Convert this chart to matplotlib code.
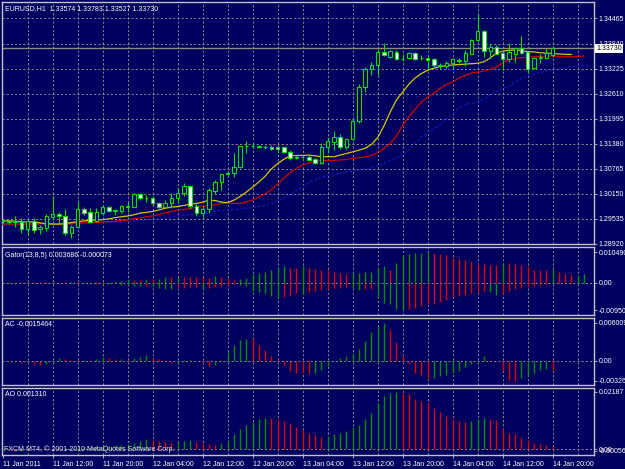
import numpy as np
import matplotlib.pyplot as plt
from matplotlib.transforms import blended_transform_factory

# EURUSD H1 candles, 11 Jan 04:00 .. 14 Jan 20:00 (89 bars)
opens = [1.2947, 1.2948, 1.2946, 1.2946, 1.2928, 1.2948, 1.2927, 1.2930, 1.2958, 1.2965,
         1.2961, 1.2918, 1.2932, 1.2978, 1.2971, 1.2947, 1.2968, 1.2982, 1.2973, 1.2973,
         1.2983, 1.2983, 1.3014, 1.3004, 1.3004, 1.2991, 1.2983, 1.2993, 1.3004, 1.3016,
         1.3034, 1.2985, 1.2968, 1.2977, 1.3022, 1.3043, 1.3063, 1.3065, 1.3081, 1.3132,
         1.3133, 1.3133, 1.3130, 1.3131, 1.3129, 1.3129, 1.3118, 1.3103, 1.3106, 1.3105,
         1.3100, 1.3090, 1.3130, 1.3141, 1.3155, 1.3129, 1.3149, 1.3195, 1.3278, 1.3321,
         1.3333, 1.3363, 1.3352, 1.3364, 1.3347, 1.3348, 1.3362, 1.3349, 1.3350, 1.3346,
         1.3331, 1.3329, 1.3336, 1.3342, 1.3342, 1.3360, 1.3393, 1.3415, 1.3367, 1.3377,
         1.3362, 1.3346, 1.3360, 1.3373, 1.3363, 1.3324, 1.3350, 1.3348, 1.33574]
highs = [1.2952, 1.2950, 1.2961, 1.2956, 1.2955, 1.2955, 1.2938, 1.2964, 1.3008, 1.2971,
         1.2977, 1.2938, 1.2995, 1.2982, 1.2980, 1.2979, 1.2985, 1.2985, 1.2977, 1.2987,
         1.2995, 1.3016, 1.3017, 1.3012, 1.3010, 1.2994, 1.3000, 1.3017, 1.3028, 1.3041,
         1.3037, 1.2993, 1.2985, 1.3028, 1.3048, 1.3064, 1.3070, 1.3114, 1.3133, 1.3145,
         1.3137, 1.3135, 1.3134, 1.3134, 1.3134, 1.3131, 1.3122, 1.3110, 1.3108, 1.3109,
         1.3102, 1.3140, 1.3154, 1.3170, 1.3162, 1.3151, 1.3200, 1.3285, 1.3327, 1.3340,
         1.3371, 1.3385, 1.3370, 1.3370, 1.3360, 1.3364, 1.3364, 1.3356, 1.3354, 1.3348,
         1.3336, 1.3342, 1.3350, 1.3350, 1.3368, 1.3397, 1.3457, 1.3418, 1.3383, 1.3381,
         1.3365, 1.3385, 1.3375, 1.3403, 1.3367, 1.3352, 1.3359, 1.3373, 1.33783]
lows = [1.2941, 1.2941, 1.2934, 1.2918, 1.2913, 1.2918, 1.2916, 1.2922, 1.2950, 1.2942,
        1.2913, 1.2905, 1.2930, 1.2963, 1.2944, 1.2944, 1.2963, 1.2971, 1.2963, 1.2967,
        1.2971, 1.2981, 1.3000, 1.2995, 1.2984, 1.2980, 1.2980, 1.2980, 1.2993, 1.3009,
        1.2977, 1.2960, 1.2958, 1.2968, 1.3014, 1.3023, 1.3060, 1.3056, 1.3079, 1.3115,
        1.3128, 1.3128, 1.3125, 1.3122, 1.3114, 1.3115, 1.3097, 1.3101, 1.3102, 1.3095,
        1.3088, 1.3089, 1.3114, 1.3122, 1.3125, 1.3125, 1.3147, 1.3190, 1.3266, 1.3307,
        1.3307, 1.3354, 1.3350, 1.3344, 1.3342, 1.3346, 1.3345, 1.3344, 1.3323, 1.3327,
        1.3323, 1.3324, 1.3324, 1.3336, 1.3329, 1.3359, 1.3391, 1.3352, 1.3348, 1.3358,
        1.3319, 1.3340, 1.3340, 1.3360, 1.3311, 1.3321, 1.3336, 1.3346, 1.33527]
closes = [1.2949, 1.2944, 1.2947, 1.2928, 1.2948, 1.2926, 1.2932, 1.2960, 1.2964, 1.2960,
          1.2918, 1.2934, 1.2978, 1.2968, 1.2946, 1.2970, 1.2982, 1.2973, 1.2974, 1.2985,
          1.2984, 1.3014, 1.3004, 1.3005, 1.2991, 1.2983, 1.2993, 1.3005, 1.3016, 1.3034,
          1.2985, 1.2968, 1.2977, 1.3024, 1.3043, 1.3063, 1.3065, 1.3081, 1.3132, 1.3133,
          1.3132, 1.3130, 1.3129, 1.3124, 1.3124, 1.3118, 1.3102, 1.3106, 1.3105, 1.3098,
          1.3090, 1.3129, 1.3145, 1.3155, 1.3129, 1.3149, 1.3195, 1.3277, 1.3322, 1.3333,
          1.3363, 1.3356, 1.3366, 1.3346, 1.3346, 1.3362, 1.3346, 1.3350, 1.3344, 1.3331,
          1.3330, 1.3337, 1.3346, 1.3343, 1.3362, 1.3393, 1.3415, 1.3366, 1.3377, 1.3360,
          1.3346, 1.3363, 1.3373, 1.3362, 1.3323, 1.3348, 1.3352, 1.3362, 1.33730]

# Alligator lines as drawn (already shifted forward: lips 3, teeth 5, jaw 8 bars)
lips = [1.2948, 1.2948, 1.2947, 1.2946, 1.2945, 1.2945, 1.2943, 1.2941, 1.2940, 1.2940,
        1.2941, 1.2944, 1.2946, 1.2948, 1.2949, 1.2950, 1.2951, 1.2953, 1.2956, 1.2958,
        1.2960, 1.2963, 1.2967, 1.2969, 1.2971, 1.2975, 1.2979, 1.2982, 1.2983, 1.2986,
        1.2989, 1.2991, 1.2994, 1.2999, 1.2998, 1.2994, 1.2993, 1.2999, 1.3008, 1.3019,
        1.3031, 1.3044, 1.3058, 1.3076, 1.3089, 1.3100, 1.3108, 1.3109, 1.3109, 1.3110,
        1.3108, 1.3106, 1.3106, 1.3106, 1.3110, 1.3114, 1.3118, 1.3122, 1.3127, 1.3136,
        1.3153, 1.3182, 1.3216, 1.3246, 1.3265, 1.3285, 1.3300, 1.3311, 1.3319, 1.3324,
        1.3328, 1.3330, 1.3332, 1.3333, 1.3334, 1.3335, 1.3336, 1.3340, 1.3349, 1.3361,
        1.3366, 1.3368, 1.3369, 1.3367, 1.3365, 1.3364, 1.3362, 1.3361, 1.3360, 1.3359,
        1.3358, 1.3358]
teeth = [1.2940, 1.2940, 1.2940, 1.2940, 1.2940, 1.2940, 1.2941, 1.2941, 1.2941, 1.2941,
         1.2940, 1.2941, 1.2942, 1.2943, 1.2944, 1.2944, 1.2945, 1.2946, 1.2947, 1.2949,
         1.2950, 1.2953, 1.2955, 1.2958, 1.2960, 1.2963, 1.2968, 1.2971, 1.2975, 1.2976,
         1.2979, 1.2981, 1.2984, 1.2986, 1.2988, 1.2991, 1.2992, 1.2991, 1.2991, 1.2995,
         1.2999, 1.3007, 1.3015, 1.3025, 1.3039, 1.3054, 1.3067, 1.3077, 1.3086, 1.3091,
         1.3094, 1.3096, 1.3097, 1.3097, 1.3098, 1.3099, 1.3102, 1.3104, 1.3105, 1.3109,
         1.3116, 1.3126, 1.3139, 1.3157, 1.3184, 1.3205, 1.3223, 1.3241, 1.3253, 1.3263,
         1.3274, 1.3284, 1.3290, 1.3300, 1.3306, 1.3312, 1.3314, 1.3317, 1.3321, 1.3327,
         1.3337, 1.3345, 1.3348, 1.3350, 1.3351, 1.3352, 1.3353, 1.3354, 1.3354, 1.3353,
         1.3352, 1.3352, 1.3353, 1.3354]
jaw = [1.2938, 1.2938, 1.2938, 1.2938, 1.2938, 1.2938, 1.2938, 1.2938, 1.2938, 1.2938,
       1.2938, 1.2939, 1.2940, 1.2941, 1.2942, 1.2943, 1.2944, 1.2944, 1.2945, 1.2945,
       1.2946, 1.2947, 1.2948, 1.2950, 1.2952, 1.2953, 1.2955, 1.2957, 1.2960, 1.2962,
       1.2964, 1.2966, 1.2968, 1.2970, 1.2972, 1.2973, 1.2975, 1.2976, 1.2977, 1.2979,
       1.2981, 1.2983, 1.2986, 1.2991, 1.2997, 1.3004, 1.3013, 1.3023, 1.3033, 1.3042,
       1.3050, 1.3055, 1.3059, 1.3062, 1.3066, 1.3068, 1.3071, 1.3073, 1.3075, 1.3078,
       1.3083, 1.3089, 1.3097, 1.3104, 1.3110, 1.3123, 1.3140, 1.3156, 1.3167, 1.3175,
       1.3184, 1.3199, 1.3211, 1.3226, 1.3234, 1.3238, 1.3241, 1.3248, 1.3258, 1.3268,
       1.3274, 1.3280, 1.3289, 1.3299, 1.3306, 1.3310, 1.3313, 1.3317, 1.3320, 1.3322,
       1.3325, 1.3327, 1.3329, 1.3330, 1.3331]

# Gator oscillator (upper / lower histograms)
gator_up = [0.00023, 0.00034, 0.00023, 0.00011, 0.00023, 0.00011, 0.00011, 0.00011, 0.00023, 0.00011,
            0.00011, 0.00023, 0.00023, 0.00034, 0.00034, 0.00034, 0.00023, 0.00034, 0.00045, 0.00057,
            0.00113, 0.00090, 0.00090, 0.00113, 0.00113, 0.00124, 0.00181, 0.00181, 0.00203, 0.00203,
            0.00181, 0.00181, 0.00181, 0.00170, 0.00226, 0.00203, 0.00147, 0.00090, 0.00113, 0.00147,
            0.00283, 0.00339, 0.00373, 0.00429, 0.00520, 0.00565, 0.00520, 0.00509, 0.00565, 0.00520,
            0.00486, 0.00452, 0.00429, 0.00362, 0.00339, 0.00294, 0.00316, 0.00339, 0.00350, 0.00362,
            0.00520, 0.00565, 0.00452, 0.00678, 0.00938, 0.00972, 0.01017, 0.01028, 0.01049, 0.01017,
            0.00994, 0.00938, 0.00859, 0.00825, 0.00768, 0.00712, 0.00633, 0.00633, 0.00599, 0.00599,
            0.00678, 0.00678, 0.00655, 0.00599, 0.00576, 0.00452, 0.00418, 0.00418, 0.00475, 0.00350,
            0.00305, 0.00249, 0.00271, 0.00283]
gator_dn = [-0.00023, -0.00023, -0.00034, -0.00023, -0.00023, -0.00011, -0.00023, -0.00011, -0.00011, -0.00023,
            -0.00023, -0.00011, -0.00023, -0.00023, -0.00034, -0.00034, -0.00045, -0.00057, -0.00057, -0.00068,
            -0.00079, -0.00102, -0.00113, -0.00102, -0.00113, -0.00192, -0.00215, -0.00226, -0.00192, -0.00192,
            -0.00136, -0.00136, -0.00215, -0.00170, -0.00136, -0.00113, -0.00079, -0.00045, -0.00079, -0.00113,
            -0.00305, -0.00339, -0.00362, -0.00475, -0.00531, -0.00497, -0.00452, -0.00362, -0.00384, -0.00339,
            -0.00305, -0.00249, -0.00226, -0.00192, -0.00170, -0.00136, -0.00192, -0.00249, -0.00226, -0.00226,
            -0.00531, -0.00701, -0.00757, -0.00927, -0.00949, -0.00904, -0.00870, -0.00814, -0.00757, -0.00723,
            -0.00678, -0.00610, -0.00497, -0.00475, -0.00418, -0.00362, -0.00339, -0.00305, -0.00328, -0.00429,
            -0.00362, -0.00305, -0.00226, -0.00192, -0.00136, -0.00113, -0.00090, -0.00045, -0.00023, -0.00023,
            -0.00023, -0.00011, -0.00011, -0.00007]

# Accelerator (AC) and Awesome (AO) oscillators, in units of 1e-3
ac = [-0.27, -0.27, -0.21, -0.43, -0.27, -0.53, -0.74, -0.48, -0.16, 0.43,
      0.21, 0.11, 0.05, 0.16, 0.11, 0.27, 0.64, 0.48, 0.21, 0.27,
      0.16, 0.43, 0.64, 0.85, 0.43, 0.27, 0.05, -0.43, -0.32, 0.11,
      0.16, 0.00, -0.32, -0.80, -0.64, 0.05, 1.33, 2.55, 3.35, 3.46,
      3.40, 2.55, 1.76, 0.80, -0.16, -0.74, -1.70, -1.97, -2.02, -2.02,
      -1.92, -1.44, -0.80, 0.00, 0.43, 0.80, 1.12, 1.86, 3.09, 4.52,
      5.53, 6.009, 4.89, 2.98, 0.69, -0.53, -1.97, -2.23, -2.77, -2.71,
      -2.50, -2.23, -2.02, -1.60, -1.06, -0.53, -0.27, 0.80, 0.11, 0.00,
      -1.60, -3.03, -3.26, -2.77, -2.39, -1.92, -1.49, -1.38, -1.5464]
ao = [-0.25, -0.38, -0.56, -0.51, -0.38, -0.25, 0.00, 0.13, 0.25, 0.25,
      0.38, 0.51, 0.63, 0.88, 1.01, 1.14, 1.26, 1.39, 1.52, 1.77,
      2.02, 2.28, 3.29, 3.79, 3.54, 3.29, 2.91, 2.53, 2.78, 3.16,
      3.41, 2.78, 2.28, 1.90, 1.64, 2.28, 3.54, 5.69, 7.84, 9.10,
      10.36, 11.38, 11.88, 11.76, 11.38, 10.74, 9.86, 8.60, 7.33, 6.32,
      5.44, 4.80, 5.06, 5.69, 6.32, 6.95, 8.22, 9.10, 11.38, 13.90,
      17.44, 20.22, 21.49, 21.87, 21.49, 20.86, 19.21, 18.33, 17.70, 15.80,
      14.16, 12.64, 11.63, 10.74, 10.36, 10.74, 11.63, 11.76, 11.38, 11.12,
      7.58, 6.32, 5.69, 4.80, 3.54, 2.53, 1.90, 1.52, 1.31]

price_ticks = [1.34465, 1.33840, 1.33225, 1.32610, 1.31995, 1.31380, 1.30765, 1.30150, 1.29535, 1.28920]
date_bars = [0, 8, 16, 24, 32, 40, 48, 56, 64, 72, 80, 88]
date_labels = ['11 Jan 2011', '11 Jan 12:00', '11 Jan 20:00', '12 Jan 04:00', '12 Jan 12:00',
               '12 Jan 20:00', '13 Jan 04:00', '13 Jan 12:00', '13 Jan 20:00', '14 Jan 04:00',
               '14 Jan 12:00', '14 Jan 20:00']

# colours / style
bg = '#00005e'
frame = '#c4c4c4'
gridc = '#a09f90'
candle = '#00e000'
up_c = '#009000'
dn_c = '#e00000'
fs = 5.0
plt.rcParams['font.family'] = ['Liberation Sans', 'DejaVu Sans']

W, H = 625, 469
fig = plt.figure(figsize=(W / 100, H / 100), dpi=100)
fig.patch.set_facecolor(bg)


def box(top, bottom, left=2, right=594):
    return [left / W, 1 - bottom / H, (right - left) / W, (bottom - top) / H]


def style(a, yticks, ylabels, ylim):
    a.set_facecolor(bg)
    for s in a.spines.values():
        s.set_color(frame)
        s.set_linewidth(1.0)
    a.set_xlim(-0.1, 94.6)
    a.set_ylim(*ylim)
    a.yaxis.tick_right()
    a.set_yticks(yticks)
    a.set_yticklabels(ylabels)
    a.tick_params(axis='y', length=2, width=0.6, color=frame, labelcolor='white',
                  labelsize=fs, pad=1.2)
    a.set_xticks([])
    for k in range(4, 95, 4):
        a.axvline(k, color=gridc, lw=0.6, ls=(0, (2.5, 2.5)), zorder=1)


def hist_colors(vals, use_abs=False):
    v = np.abs(vals) if use_abs else np.asarray(vals)
    cols = [up_c]
    for a, b in zip(v[:-1], v[1:]):
        cols.append(up_c if b > a else dn_c)
    return cols


# ---- main price window
ax = fig.add_axes(box(2, 244))
style(ax, price_ticks, ['%.5f' % p for p in price_ticks], (1.2891, 1.3487))
for p in price_ticks:
    ax.axhline(p, color=gridc, lw=0.6, ls=(0, (2.5, 2.5)), zorder=1)

o, h, l, c = map(np.array, (opens, highs, lows, closes))
idx = np.arange(len(o))
ax.vlines(idx, l, h, color=candle, lw=0.8, zorder=4)
bull = c >= o
ax.bar(idx[bull], (c - o)[bull], bottom=o[bull], width=0.55, facecolor=bg,
       edgecolor=candle, linewidth=0.8, zorder=5)
ax.bar(idx[~bull], (o - c)[~bull], bottom=c[~bull], width=0.55, facecolor='white',
       edgecolor=candle, linewidth=0.8, zorder=5)

ax.plot(np.arange(len(jaw)), jaw, color='#1418c8', lw=0.9, ls=(0, (2, 1.6)), zorder=3)
ax.plot(np.arange(len(teeth)), teeth, color='#d00000', lw=0.9, zorder=3)
ax.plot(np.arange(len(lips)), lips, color='#d8c400', lw=0.9, zorder=3)

ax.axhline(closes[-1], color='#8a8a80', lw=1.0, zorder=2)
tr = blended_transform_factory(ax.transAxes, ax.transData)
ax.text(1.004, closes[-1], '%.5f' % closes[-1], transform=tr, fontsize=fs, color='black',
        va='center', ha='left', zorder=10,
        bbox=dict(facecolor='white', edgecolor='none', pad=0.8))
ax.text(0.005, 0.975, 'EURUSD,H1  %.5f %.5f %.5f %.5f' % (opens[-1], highs[-1], lows[-1], closes[-1]),
        transform=ax.transAxes, fontsize=fs, color='white', va='center', ha='left')

# ---- Gator
ax_g = fig.add_axes(box(247, 315))
style(ax_g, [0.01049, 0.0, -0.0095], ['0.010490', '0.00', '-0.00950'], (-0.0112, 0.0123))
ax_g.axhline(0, color=gridc, lw=0.6, ls=(0, (2.5, 2.5)), zorder=1)
gi = np.arange(len(gator_up))
ax_g.vlines(gi, 0, gator_up, colors=hist_colors(gator_up, True), lw=1.0, zorder=3)
ax_g.vlines(gi, 0, gator_dn, colors=hist_colors(gator_dn, True), lw=1.0, zorder=3)
ax_g.text(0.005, 0.88, 'Gator(13,8,5) 0.003686 -0.000073', transform=ax_g.transAxes,
          fontsize=fs, color='white', va='center', ha='left')

# ---- AC
ac_v = np.array(ac) * 1e-3
ax_ac = fig.add_axes(box(318, 385))
style(ax_ac, [0.006009, 0.0, -0.00326], ['0.006009', '0.00', '-0.00326'], (-0.0039, 0.0068))
ax_ac.axhline(0, color=gridc, lw=0.6, ls=(0, (2.5, 2.5)), zorder=1)
ax_ac.vlines(np.arange(len(ac_v)), 0, ac_v, colors=hist_colors(ac_v), lw=1.0, zorder=3)
ax_ac.text(0.005, 0.9, 'AC %.7f' % ac_v[-1], transform=ax_ac.transAxes,
           fontsize=fs, color='white', va='center', ha='left')

# ---- AO
ao_v = np.array(ao) * 1e-3
ax_ao = fig.add_axes(box(388, 455))
style(ax_ao, [0.02187, 0.0, -0.00056], ['0.02187', '0.00', '-0.00056'], (-0.0021, 0.0233))
ax_ao.axhline(0, color=gridc, lw=0.6, ls=(0, (2.5, 2.5)), zorder=1)
ax_ao.vlines(np.arange(len(ao_v)), 0, ao_v, colors=hist_colors(ao_v), lw=1.0, zorder=3)
ax_ao.text(0.005, 0.9, 'AO %.6f' % ao_v[-1], transform=ax_ao.transAxes,
           fontsize=fs, color='white', va='center', ha='left')
ax_ao.text(0.004, 0.09, 'FXCM MT4, \u00a9 2001-2010 MetaQuotes Software Corp.',
           transform=ax_ao.transAxes, fontsize=fs, color='#e8e8e8', va='center', ha='left', zorder=6)

ax_ao.set_xticks(date_bars)
ax_ao.set_xticklabels(date_labels, ha='left')
ax_ao.tick_params(axis='x', length=2.5, width=0.6, color=frame, labelcolor='white',
                  labelsize=fs, pad=1.5)

fig.savefig('out.png', dpi=100, facecolor=bg)
